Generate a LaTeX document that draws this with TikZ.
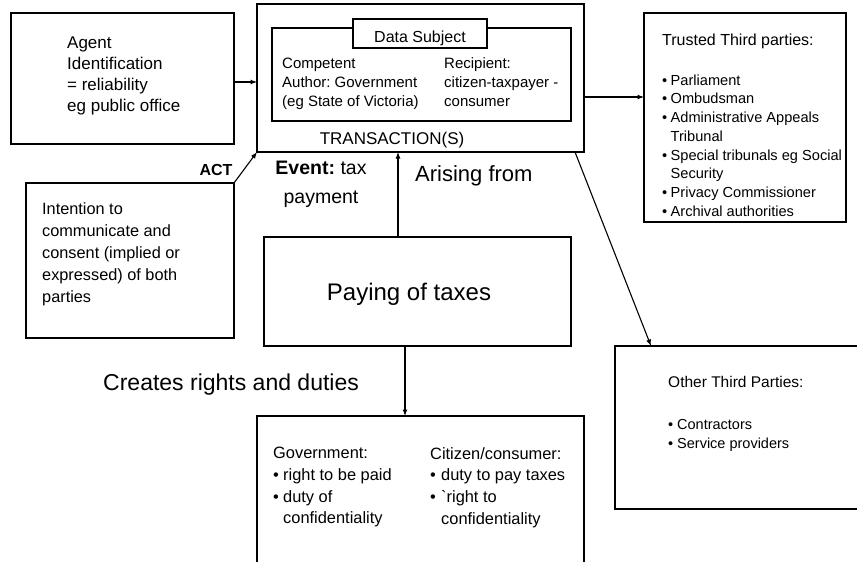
\documentclass[tikz,border=0pt]{standalone}
\usepackage{fontspec}
\setmainfont{Liberation Sans}
\usetikzlibrary{arrows.meta,calc}
\newcommand\fsz[2]{\fontsize{#1}{#2}\selectfont}
\frenchspacing
\begin{document}
\begin{tikzpicture}[x=1pt,y=-1pt,
  box/.style={draw,line width=1.2pt,anchor=north west,inner sep=0pt,outer sep=0pt},
  lbl/.style={inner sep=0pt,anchor=north west,align=left},
  one/.style={inner sep=0pt},
  arr/.style={line width=1.1pt,-{Latex[length=6.5pt,width=5pt]}}]
\useasboundingbox (0,0) rectangle (857,562);
\clip (0,0) rectangle (857,562);
\fill[white] (0,0) rectangle (857,562);

% boxes
\node[box,minimum width=223pt,minimum height=131pt] (agent) at (11,13) {};
\node[box,minimum width=327pt,minimum height=148pt] (trans) at (257,4) {};
\node[box,minimum width=299pt,minimum height=93pt] (inner) at (272,28) {};
\node[box,fill=white,minimum width=134pt,minimum height=29pt] (subj) at (353,19) {};
\node[box,minimum width=202pt,minimum height=209pt] (trusted) at (644,13) {};
\node[box,minimum width=208pt,minimum height=155pt] (intent) at (26,183) {};
\node[box,minimum width=307pt,minimum height=109pt] (paying) at (264,237) {};
\node[box,minimum width=327pt,minimum height=200pt] (rights) at (257,416) {};
\node[box,minimum width=300pt,minimum height=163pt] (others) at (615,346) {};

% texts
\node[lbl,font=\fsz{17}{21}] (agenttxt) at (67,37) {Agent\\Identification\\= reliability\\eg public office};
\node[one,anchor=base,font=\fsz{16}{19}] (subjtxt) at (420,42.8) {Data Subject};
\node[lbl,font=\fsz{15}{19}] (authtxt) at (282,57.5) {Competent\\Author: Government\\(eg State of Victoria)};
\node[lbl,font=\fsz{15}{19}] (reciptxt) at (444,57.5) {Recipient:\\citizen-taxpayer -\\consumer};
\node[one,anchor=base,font=\fsz{17}{20}] (transtxt) at (392,144.3) {TRANSACTION(S)};
\node[one,anchor=base west,font=\fsz{16}{19}] (trusttitle) at (662,45.8) {Trusted Third parties:};
\node[lbl,font=\fsz{14.6}{18.7}] (trustlist) at (662,74.5)
  {\makebox[8.5pt][l]{•}Parliament\\
   \makebox[8.5pt][l]{•}Ombudsman\\
   \makebox[8.5pt][l]{•}Administrative Appeals\\
   \hspace*{8.5pt}Tribunal\\
   \makebox[8.5pt][l]{•}Special tribunals eg Social\\
   \hspace*{8.5pt}Security\\
   \makebox[8.5pt][l]{•}Privacy Commissioner\\
   \makebox[8.5pt][l]{•}Archival authorities};
\node[one,anchor=base,font=\fsz{16}{19}\bfseries] (acttxt) at (216,175.8) {ACT};
\node[lbl,font=\fsz{16.3}{22}] (intenttxt) at (42,202) {Intention to\\communicate and\\consent (implied or\\expressed) of both\\parties};
\node[inner sep=0pt,anchor=north,align=center,font=\fsz{19.5}{29}] (eventtxt) at (321,161) {\textbf{Event:} tax\\payment};
\node[one,anchor=base west,font=\fsz{22}{26}] (arisetxt) at (415,181) {Arising from};
\node[one,anchor=base,font=\fsz{24}{28}] (payingtxt) at (409,300.6) {Paying of taxes};
\node[one,anchor=base west,font=\fsz{23}{27}] (createtxt) at (103,390) {Creates rights and duties};
\node[lbl,font=\fsz{16.4}{21.7}] (govtxt) at (273,447)
  {Government:\\
   \makebox[10pt][l]{•}right to be paid\\
   \makebox[10pt][l]{•}duty of\\
   \hspace*{10pt}confidentiality};
\node[lbl,font=\fsz{16.4}{21.7}] (citztxt) at (430,447)
  {Citizen/consumer:\\
   \makebox[11pt][l]{•}duty to pay taxes\\
   \makebox[11pt][l]{•}\textasciigrave right to\\
   \hspace*{11pt}confidentiality};
\node[one,anchor=base west,font=\fsz{15.5}{19}] (othertitle) at (668,387.6) {Other Third Parties:};
\node[lbl,font=\fsz{14.5}{19}] (otherlist) at (668,418.7)
  {\makebox[9pt][l]{•}Contractors\\
   \makebox[9pt][l]{•}Service providers};

% connectors
\draw[arr] ([yshift=-3.5pt]agent.east) -- ([yshift=-3.5pt]agent.east -| trans.west);
\draw[arr] (intent.north east) -- (trans.south west);
\draw[arr] ([xshift=-19.5pt]paying.north) -- ([xshift=-19.5pt]paying.north |- trans.south);
\draw[arr] ([xshift=-12.5pt]paying.south) -- ([xshift=-12.5pt]paying.south |- rights.north);
\draw[arr] ([yshift=-19pt]trans.east) -- ([yshift=-19pt]trans.east -| trusted.west);
\draw[arr] ([xshift=-9pt]trans.south east) -- ([xshift=36pt]others.north west);
\end{tikzpicture}
\end{document}
